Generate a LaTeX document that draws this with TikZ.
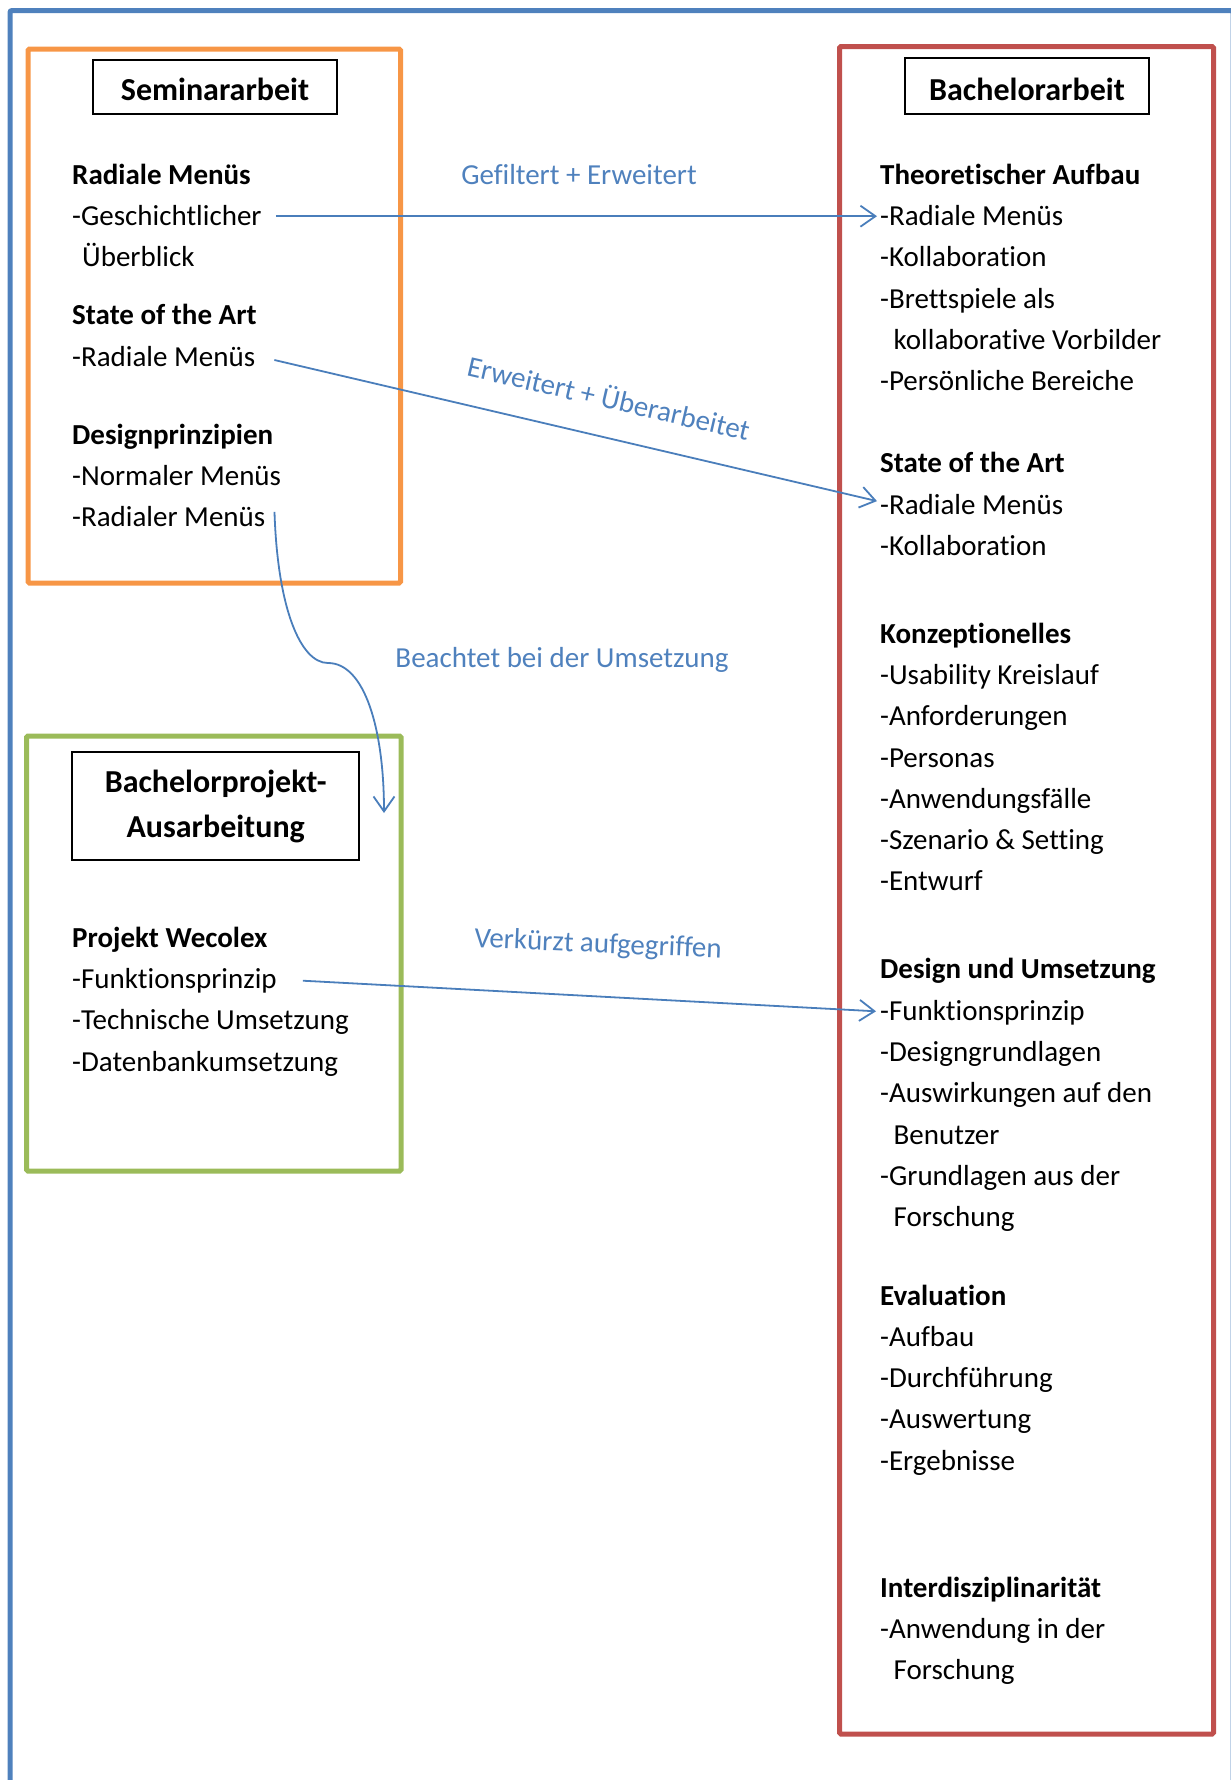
\documentclass[tikz,border=0pt]{standalone}
\usepackage{fontspec}
\setmainfont{Carlito}[Ligatures=NoCommon]
\usetikzlibrary{arrows.meta,calc}

\definecolor{frameblue}{HTML}{4F81BD}
\definecolor{seminarorange}{HTML}{F79646}
\definecolor{thesisred}{HTML}{C0504D}
\definecolor{projectgreen}{HTML}{9BBB59}
\definecolor{linkblue}{HTML}{4A7EBB}

\begin{document}
\begin{tikzpicture}[x=1pt,y=-1pt,
  txt/.style={anchor=base west, inner sep=0pt, font=\fontsize{29}{35}\selectfont},
  head/.style={anchor=base west, inner sep=0pt, font=\fontsize{29}{35}\selectfont\bfseries},
  titlebox/.style={draw=black, line width=2pt, inner sep=0pt, font=\fontsize{32}{38}\selectfont\bfseries},
  group/.style={line width=5pt, rounded corners=1.5pt},
  link/.style={draw=linkblue, line width=1.8pt,
    -{Straight Barb[length=15pt,width=21pt,line width=1.8pt]}},
  linklabel/.style={text=frameblue, inner sep=0pt, font=\fontsize{29}{35}\selectfont},
]
\useasboundingbox (0,0) rectangle (1231,1780);
\clip (0,0) rectangle (1231,1780);

% outer frame
\draw[frameblue, line width=5pt, rounded corners=2pt]
  (10,1800) -- (10,10.5) -- (1233,10.5) -- (1233,1800);

% group frames
\draw[group, seminarorange] (28,49) rectangle (400.5,583);
\draw[group, thesisred] (839.5,46.5) rectangle (1213.5,1734);
\draw[group, projectgreen] (26.5,736) rectangle (401,1171);

% titles
\node[titlebox, minimum width=244pt, minimum height=54pt, text height=33pt, text depth=7pt]
  (semTitle) at (215,87) {Seminararbeit};
\node[titlebox, minimum width=244pt, minimum height=56pt, text height=35pt, text depth=7pt]
  (baTitle) at (1027,86) {Bachelorarbeit};
\node[titlebox, minimum width=287pt, minimum height=108pt, align=center,
  font=\fontsize{32}{44}\selectfont\bfseries]
  (projTitle) at (215.7,806) {Bachelorprojekt-\\[1pt]Ausarbeitung};

% seminar paper contents
\node[head] (sRadHead)    at (72,184.5) {Radiale Menüs};
\node[txt]  (sGesch)      at (72,225.7) {-Geschichtlicher};
\node[txt]  (sUeber)      at (82,266.9) {Überblick};
\node[head] (sStateHead)  at (72,324.5) {State of the Art};
\node[txt]  (sStateRad)   at (72,366)   {-Radiale Menüs};
\node[head] (sDesignHead) at (72,444.5) {Designprinzipien};
\node[txt]  (sNormal)     at (72,485.7) {-Normaler Menüs};
\node[txt]  (sRadialer)   at (72,526.9) {-Radialer Menüs};

% project contents
\node[head] (pHead)  at (72,947.5)  {Projekt Wecolex};
\node[txt]  (pFunk)  at (72,988.7)  {-Funktionsprinzip};
\node[txt]  (pTech)  at (72,1029.9) {-Technische Umsetzung};
\node[txt]  (pDaten) at (72,1071.1) {-Datenbankumsetzung};

% thesis contents
\node[head] (tTheoHead)  at (880,184.5)   {Theoretischer Aufbau};
\node[txt]  (tRad)       at (880,225.7)   {-Radiale Menüs};
\node[txt]  (tKoll)      at (880,266.9)   {-Kollaboration};
\node[txt]  (tBrett)     at (880,308.1)   {-Brettspiele als};
\node[txt]  (tBrett2)    at (893.5,349.3) {kollaborative Vorbilder};
\node[txt]  (tPers)      at (880,390.5)   {-Persönliche Bereiche};

\node[head] (tStateHead) at (880,472.5) {State of the Art};
\node[txt]  (tStateRad)  at (880,514.1) {-Radiale Menüs};
\node[txt]  (tStateKoll) at (880,555.3) {-Kollaboration};

\node[head] (tKonzHead)  at (880,643.5) {Konzeptionelles};
\node[txt]  (tUsab)      at (880,684.7) {-Usability Kreislauf};
\node[txt]  (tAnf)       at (880,725.9) {-Anforderungen};
\node[txt]  (tPersonas)  at (880,767.1) {-Personas};
\node[txt]  (tAnw)       at (880,808.3) {-Anwendungsfälle};
\node[txt]  (tSzen)      at (880,849.5) {-Szenario \& Setting};
\node[txt]  (tEntw)      at (880,890.7) {-Entwurf};

\node[head] (tDesHead)   at (880,978.5)    {Design und Umsetzung};
\node[txt]  (tFunk)      at (880,1020.8)   {-Funktionsprinzip};
\node[txt]  (tDesGr)     at (880,1061.9)   {-Designgrundlagen};
\node[txt]  (tAusw)      at (880,1102.9)   {-Auswirkungen auf den};
\node[txt]  (tAusw2)     at (893.5,1144.1) {Benutzer};
\node[txt]  (tGrund)     at (880,1185.3)   {-Grundlagen aus der};
\node[txt]  (tGrund2)    at (893.5,1226.5) {Forschung};

\node[head] (tEvalHead)  at (880,1305.2) {Evaluation};
\node[txt]  (tAufbau)    at (880,1346.4) {-Aufbau};
\node[txt]  (tDurch)     at (880,1387.6) {-Durchführung};
\node[txt]  (tAuswert)   at (880,1428.8) {-Auswertung};
\node[txt]  (tErgeb)     at (880,1470)   {-Ergebnisse};

\node[head] (tInterHead) at (880,1597.1) {Interdisziplinarität};
\node[txt]  (tAnwF)      at (880,1638.3) {-Anwendung in der};
\node[txt]  (tAnwF2)     at (893.5,1679.5) {Forschung};

% connector labels
\node[linklabel] (lblFilter) at (579,175) {Gefiltert + Erweitert};
\node[linklabel, rotate=-13] (lblErw) at (609,397) {Erweitert + Überarbeitet};
\node[linklabel] (lblBeachtet) at (562,660) {Beachtet bei der Umsetzung};
\node[linklabel, rotate=-2.5] (lblVerk) at (598,945) {Verkürzt aufgegriffen};

% connector end points
\coordinate (a1s) at ($(sGesch.base east)+(14,-9.5)$);
\coordinate (a1e) at ($(tRad.base west)+(-3,-9.5)$);
\coordinate (a2s) at ($(sStateRad.base east)+(19,-6)$);
\coordinate (a2e) at ($(tStateRad.base west)+(-3,-13)$);
\coordinate (a3s) at ($(sRadialer.base east)+(9,-15)$);
\coordinate (a3m) at (328,663);
\coordinate (a3e) at (384,813);
\coordinate (a4s) at ($(pFunk.base east)+(26,-8)$);
\coordinate (a4e) at ($(tFunk.base west)+(-4,-9.5)$);

% connectors
\draw[link] (a1s) -- (a1e);
\draw[link] (a2s) -- (a2e);
\draw[link] (a3s) .. controls ($(a3s)+(3,95)$) and (300,663) .. (a3m)
  .. controls (365,663) and (384,730) .. (a3e);
\draw[link] (a4s) -- (a4e);
\end{tikzpicture}
\end{document}
